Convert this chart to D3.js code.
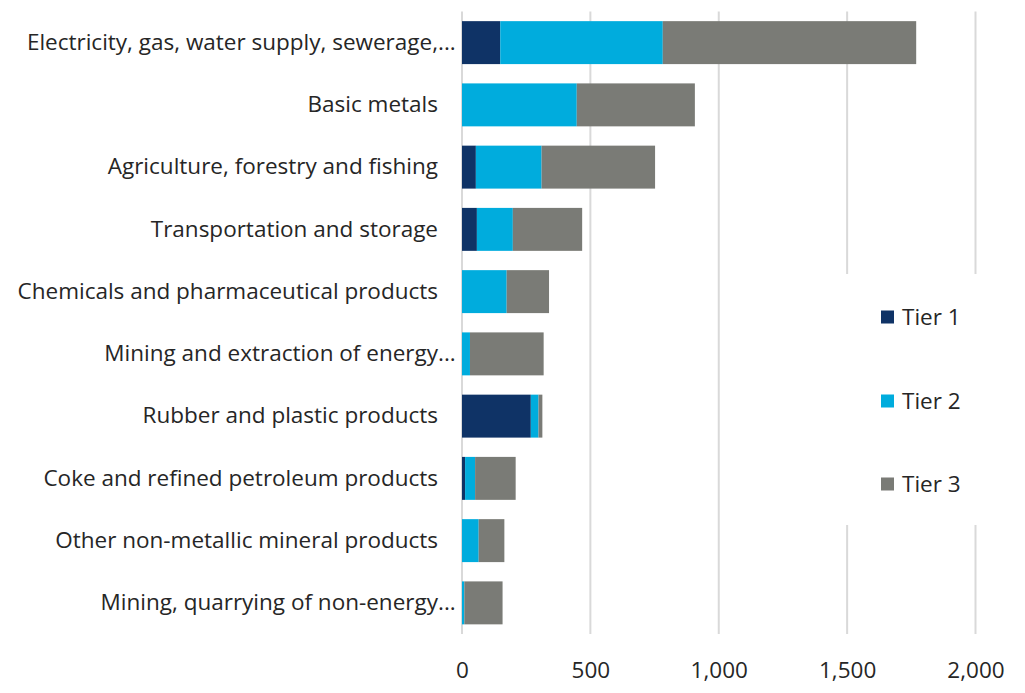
<!DOCTYPE html>
<html>
<head>
<meta charset="utf-8">
<script src="https://cdn.jsdelivr.net/npm/d3@7"></script>
<style>
  html, body { margin: 0; padding: 0; background: #fff; }
  text { font-family: "Open Sans", "Noto Sans", sans-serif; fill: #262626; }
</style>
</head>
<body>
<svg id="chart" width="1025" height="693"></svg>
<script>
const categories = [
  "Electricity, gas, water supply, sewerage,...",
  "Basic metals",
  "Agriculture, forestry and fishing",
  "Transportation and storage",
  "Chemicals and pharmaceutical products",
  "Mining and extraction of energy...",
  "Rubber and plastic products",
  "Coke and refined petroleum products",
  "Other non-metallic mineral products",
  "Mining, quarrying of non-energy..."
];
const seriesNames = ["Tier 1", "Tier 2", "Tier 3"];
const tier1 = [149, 0, 54, 58, 0, 0, 268, 12, 0, 0];
const tier2 = [633, 447, 256, 140, 174, 31, 30, 39, 65, 9];
const tier3 = [987, 460, 442, 270, 165, 287, 15, 158, 100, 149];
const tickValues = [0, 500, 1000, 1500, 2000];
const colors = ["#0f3366", "#00acdd", "#7a7b76"];

const FS = 22.5;
const FF = '"Open Sans", "Noto Sans", sans-serif';
const svg = d3.select("#chart");
const x = d3.scaleLinear().domain([0, 2000]).range([462, 975.5]);
const y = d3.scaleBand().domain(categories).range([11.5, 634]).paddingInner(0.31).paddingOuter(0.155);

const rows = categories.map((c, i) => ({ cat: c, "Tier 1": tier1[i], "Tier 2": tier2[i], "Tier 3": tier3[i] }));
const stacked = d3.stack().keys(seriesNames)(rows);

// gridlines
svg.append("g").selectAll("line").data(tickValues).join("line")
  .attr("x1", d => x(d)).attr("x2", d => x(d))
  .attr("y1", 11.5).attr("y2", 634)
  .attr("stroke", "#d9d9d9").attr("stroke-width", 2);

// bars
svg.append("g").selectAll("g").data(stacked).join("g")
  .attr("fill", (d, i) => colors[i])
  .selectAll("rect").data(d => d).join("rect")
  .attr("x", d => x(d[0]))
  .attr("width", d => Math.max(0, x(d[1]) - x(d[0])))
  .attr("y", d => y(d.data.cat))
  .attr("height", y.bandwidth());

// x tick labels
const xAxis = d3.axisBottom(x).tickValues(tickValues).tickFormat(d3.format(",")).tickSize(0).tickPadding(0);
const gx = svg.append("g").attr("transform", "translate(0,655)").call(xAxis);
gx.select(".domain").remove();
gx.selectAll("text").attr("font-size", FS).style("font-family", FF).attr("fill", "#262626").attr("dy", "1.0em");

// category labels
const yAxis = d3.axisLeft(y).tickSize(0).tickPadding(0).tickFormat(d => d.replace(/\.\.\.$/, ""));
const gy = svg.append("g").attr("transform", "translate(438,0)").call(yAxis);
gy.select(".domain").remove();
gy.selectAll("text").attr("font-size", FS).style("font-family", FF).attr("fill", "#262626");
// overflowing ellipsis
svg.append("g").selectAll("text").data(categories.filter(c => c.endsWith("..."))).join("text")
  .attr("x", 438).attr("y", d => y(d) + y.bandwidth() / 2)
  .attr("dy", "0.32em").attr("font-size", FS).text("...");

// legend
const lg = svg.append("g");
lg.append("rect").attr("x", 835).attr("y", 274).attr("width", 160).attr("height", 251).attr("fill", "#fff");
const legY = [317, 401, 484];
const items = lg.selectAll("g").data(seriesNames).join("g")
  .attr("transform", (d, i) => `translate(881,${legY[i]})`);
items.append("rect").attr("x", 0).attr("y", -6.5).attr("width", 13).attr("height", 13).attr("fill", (d, i) => colors[i]);
items.append("text").attr("x", 21).attr("dy", "0.35em").attr("font-size", FS).text(d => d);
</script>
</body>
</html>
